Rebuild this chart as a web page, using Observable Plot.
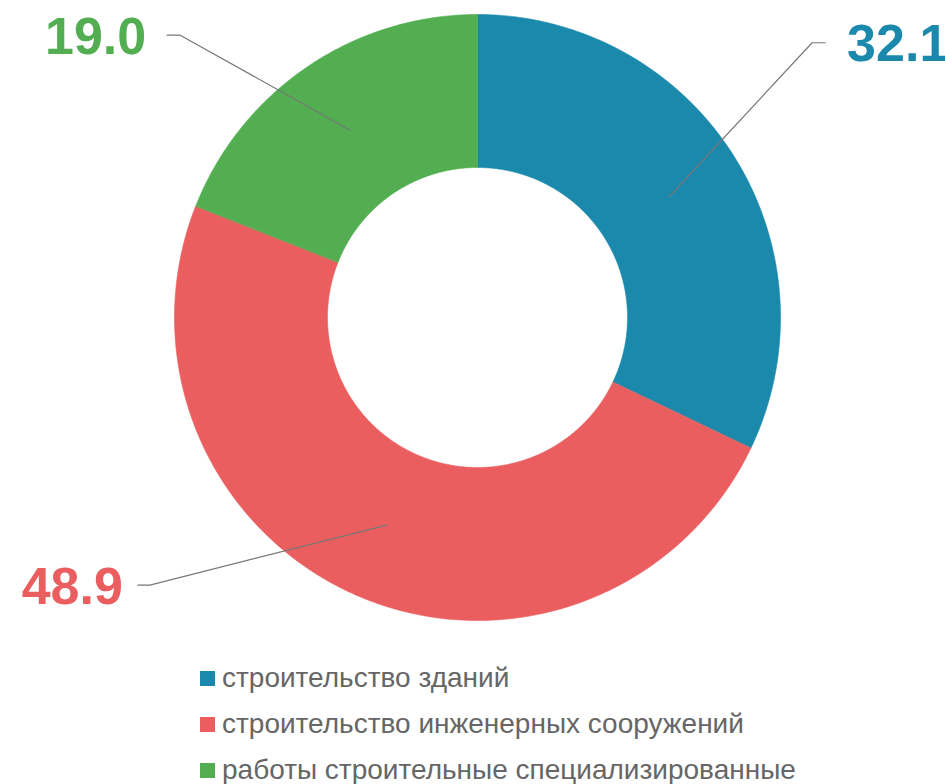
<!DOCTYPE html>
<html>
<head>
<meta charset="utf-8">
<script src="https://cdn.jsdelivr.net/npm/d3@7"></script>
<script src="https://cdn.jsdelivr.net/npm/@observablehq/plot@0.6"></script>
<style>
  body { margin: 0; background: #fff; font-family: "Liberation Sans", Arial, sans-serif; }
  #legend { padding-top: 5px; padding-left: 200px; }
  .row { display: flex; align-items: center; height: 46px; font-size: 28px; color: #666; white-space: nowrap; }
  .sw { width: 15px; height: 15px; margin-right: 7px; flex: none; }
</style>
</head>
<body>
<div id="chart"></div>
<div id="legend"></div>
<script>
// ---- data ----
const categories = ["строительство зданий", "строительство инженерных сооружений", "работы строительные специализированные"];
const values = [32.1, 48.9, 19.0];
const labels = ["32.1", "48.9", "19.0"];
const colors = ["#1A89AC", "#EB5E60", "#52AE51"];

// ---- layout ----
const W = 945, H = 650;
const cx = 477, cy = 317, Rpx = 303;
const innerRatio = 150 / 303;
// leader line offsets (px): from ring midpoint to elbow, then horizontal run, then text gap
const leader = [
  {dx: 143, dy: -154, run: 13, gap: 22},
  {dx: -237, dy: 60, run: -12, gap: -15},
  {dx: -170, dy: -95, run: -13, gap: -21}
];

const total = d3.sum(values);
let acc = 0;
const slices = values.map((v, i) => {
  const a0 = acc / total * 2 * Math.PI;
  acc += v;
  const a1 = acc / total * 2 * Math.PI;
  return {i, cat: categories[i], a0, a1, mid: (a0 + a1) / 2};
});

// polygon points for each annular slice (data units, radius 1 = outer)
const ring = [];
for (const s of slices) {
  const n = Math.max(2, Math.ceil((s.a1 - s.a0) / (Math.PI / 360)));
  for (let k = 0; k <= n; k++) {
    const a = s.a0 + (s.a1 - s.a0) * k / n;
    ring.push({cat: s.cat, x: Math.sin(a), y: Math.cos(a)});
  }
  for (let k = n; k >= 0; k--) {
    const a = s.a0 + (s.a1 - s.a0) * k / n;
    ring.push({cat: s.cat, x: innerRatio * Math.sin(a), y: innerRatio * Math.cos(a)});
  }
}

// leader lines and labels
const rMid = (1 + innerRatio) / 2;
const leaderPts = [];
const labelPts = [];
slices.forEach((s, i) => {
  const L = leader[i];
  const ax = rMid * Math.sin(s.mid), ay = rMid * Math.cos(s.mid);
  const ex = ax + L.dx / Rpx, ey = ay - L.dy / Rpx;
  const hx = ex + L.run / Rpx;
  leaderPts.push({cat: s.cat, x: ax, y: ay}, {cat: s.cat, x: ex, y: ey}, {cat: s.cat, x: hx, y: ey});
  labelPts.push({cat: s.cat, label: labels[i], x: hx + L.gap / Rpx, y: ey, anchor: L.gap > 0 ? "start" : "end", color: colors[i]});
});

const xDomain = [-cx / Rpx, (W - cx) / Rpx];
const yDomain = [-(H - cy) / Rpx, cy / Rpx];

const chart = Plot.plot({
  width: W,
  height: H,
  margin: 0,
  x: {domain: xDomain, range: [0, W], axis: null},
  y: {domain: yDomain, range: [H, 0], axis: null},
  color: {domain: categories, range: colors},
  marks: [
    Plot.line(ring, {x: "x", y: "y", z: "cat", fill: "cat", stroke: "cat", strokeWidth: 0.6, curve: "linear-closed"}),
    Plot.line(leaderPts, {x: "x", y: "y", z: "cat", stroke: "#777", strokeWidth: 1.2}),
    Plot.text(labelPts.filter(d => d.anchor === "start"), {x: "x", y: "y", text: "label", fill: "cat", textAnchor: "start", fontSize: 52, fontWeight: "bold", fontFamily: "Liberation Sans, Arial, sans-serif", dy: 2}),
    Plot.text(labelPts.filter(d => d.anchor === "end"), {x: "x", y: "y", text: "label", fill: "cat", textAnchor: "end", fontSize: 52, fontWeight: "bold", fontFamily: "Liberation Sans, Arial, sans-serif", dy: 2})
  ]
});
document.getElementById("chart").append(chart);

const legend = document.getElementById("legend");
categories.forEach((c, i) => {
  const row = document.createElement("div");
  row.className = "row";
  const sw = document.createElement("span");
  sw.className = "sw";
  sw.style.background = colors[i];
  const t = document.createElement("span");
  t.textContent = c;
  row.append(sw, t);
  legend.append(row);
});
</script>
</body>
</html>
